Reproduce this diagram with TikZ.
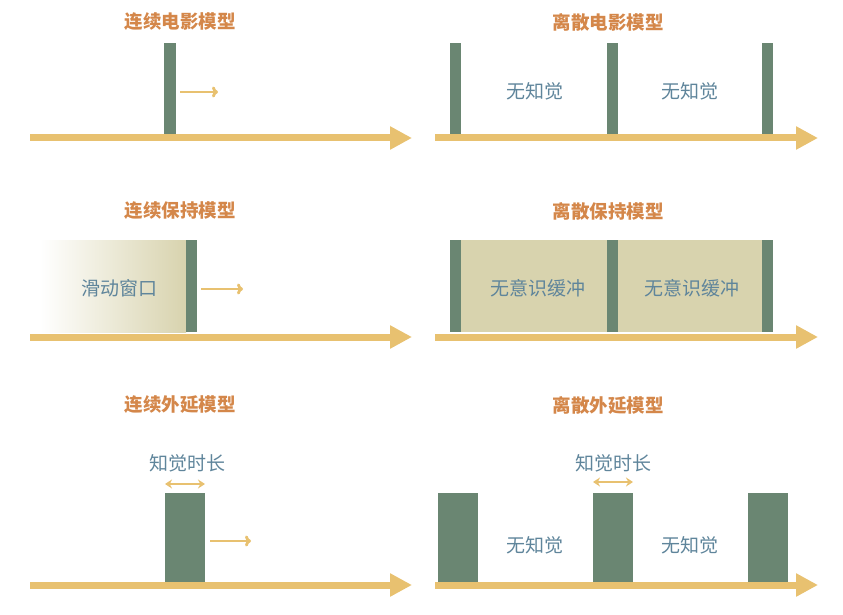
\documentclass[tikz,border=0pt]{standalone}
\usepackage{fontspec}
\newfontfamily\cjk{Noto Sans CJK SC}
\usetikzlibrary{arrows.meta}
\definecolor{ttl}{HTML}{D4874A}
\definecolor{axc}{HTML}{E8C170}
\definecolor{grn}{HTML}{6A8672}
\definecolor{khk}{HTML}{D8D3AE}
\definecolor{lbl}{HTML}{5F859B}
\tikzset{
 x=1pt,y=-1pt,
 title/.style={text=ttl,font=\cjk\bfseries\fontsize{18.5}{22}\selectfont},
 lab/.style={text=lbl,font=\cjk\fontsize{19}{22}\selectfont},
 axis/.style={draw=axc,line width=7,-{Triangle[length=22,width=22]}},
 mv/.style={draw=axc,line width=2.8,-{To[length=6,width=11]}},
 dur/.style={draw=axc,line width=2.4,{Stealth[length=7,width=9]}-{Stealth[length=7,width=9]}},
 bar/.style={fill=grn,draw=none},
}
\begin{document}
\begin{tikzpicture}
\useasboundingbox (0,0) rectangle (843,615);
% Row 1
\node[title] (t1) at (180,22) {连续电影模型};
\node[title] (t2) at (608,22) {离散电影模型};
\coordinate (a1s) at (30,138); \coordinate (a1e) at (412,138);
\draw[axis] (a1s) -- (a1e);
\coordinate (a2s) at (435,138); \coordinate (a2e) at (818,138);
\draw[axis] (a2s) -- (a2e);
\fill[bar] (164,43) rectangle (176,134);
\coordinate (m1s) at (180,92); \coordinate (m1e) at (218,92);
\draw[mv] (m1s) -- (m1e);
\foreach \x in {450,607,762}{\fill[bar] (\x,43) rectangle (\x+11,134);}
\node[lab] (n1) at (535,91) {无知觉};
\node[lab] (n2) at (690,91) {无知觉};
% Row 2
\node[title] (t3) at (180,211) {连续保持模型};
\node[title] (t4) at (608,211) {离散保持模型};
\coordinate (a3s) at (30,337); \coordinate (a3e) at (412,337);
\draw[axis] (a3s) -- (a3e);
\coordinate (a4s) at (435,337); \coordinate (a4e) at (818,337);
\draw[axis] (a4s) -- (a4e);
\shade[left color=white,right color=khk] (40,240) rectangle (186,332);
\fill[bar] (186,240) rectangle (197,332);
\node[lab] (w) at (119,288) {滑动窗口};
\coordinate (m2s) at (201,289); \coordinate (m2e) at (243,289);
\draw[mv] (m2s) -- (m2e);
\fill[khk] (450,240) rectangle (773,332);
\foreach \x in {450,607,762}{\fill[bar] (\x,240) rectangle (\x+11,332);}
\node[lab] (b1) at (538,288) {无意识缓冲};
\node[lab] (b2) at (692,288) {无意识缓冲};
% Row 3
\node[title] (t5) at (180,405) {连续外延模型};
\node[title] (t6) at (608,405) {离散外延模型};
\coordinate (a5s) at (30,585); \coordinate (a5e) at (412,585);
\draw[axis] (a5s) -- (a5e);
\coordinate (a6s) at (435,585); \coordinate (a6e) at (818,585);
\draw[axis] (a6s) -- (a6e);
\fill[bar] (165,493) rectangle (205,582);
\coordinate (d1s) at (165,484); \coordinate (d1e) at (205,484);
\draw[dur] (d1s) -- (d1e);
\node[lab] (p1) at (187,463) {知觉时长};
\coordinate (m3s) at (210,541); \coordinate (m3e) at (251,541);
\draw[mv] (m3s) -- (m3e);
\foreach \x in {438,593,748}{\fill[bar] (\x,493) rectangle (\x+40,582);}
\coordinate (d2s) at (593,482); \coordinate (d2e) at (633,482);
\draw[dur] (d2s) -- (d2e);
\node[lab] (p2) at (613,463) {知觉时长};
\node[lab] (n3) at (535,545) {无知觉};
\node[lab] (n4) at (690,545) {无知觉};
\end{tikzpicture}
\end{document}
